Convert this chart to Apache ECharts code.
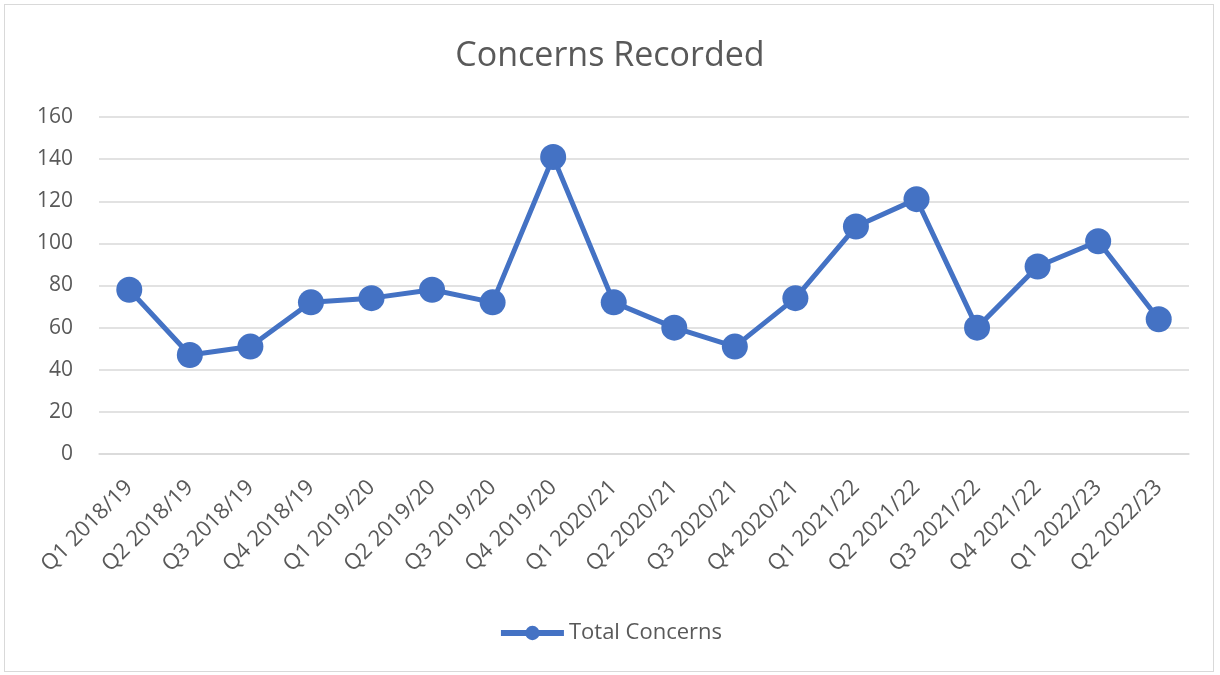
<!DOCTYPE html>
<html>
<head>
<meta charset="utf-8">
<script src="https://cdn.jsdelivr.net/npm/echarts@6/dist/echarts.min.js"></script>
<style>
html,body{margin:0;padding:0;background:#fff;}
#frame{position:absolute;left:4px;top:4px;width:1210px;height:668px;border:1px solid #d9d9d9;box-sizing:border-box;}
#chart{position:absolute;left:0;top:0;width:1220px;height:675px;}
</style>
</head>
<body>
<div id="frame"></div>
<div id="chart"></div>
<script>
const categories = ["Q1 2018/19","Q2 2018/19","Q3 2018/19","Q4 2018/19","Q1 2019/20","Q2 2019/20","Q3 2019/20","Q4 2019/20","Q1 2020/21","Q2 2020/21","Q3 2020/21","Q4 2020/21","Q1 2021/22","Q2 2021/22","Q3 2021/22","Q4 2021/22","Q1 2022/23","Q2 2022/23"];
const totalConcerns = [78,47,51,72,74,78,72,141,72,60,51,74,108,121,60,89,101,64];
const seriesName = "Total Concerns";
const titleText = "Concerns Recorded";

const chart = echarts.init(document.getElementById('chart'), null, {renderer:'canvas'});
const font = "'Open Sans', 'Noto Sans', sans-serif";
chart.setOption({
  animation:false,
  backgroundColor:'transparent',
  title:{text:titleText,left:'center',top:34,textStyle:{fontFamily:font,fontSize:34,fontWeight:'normal',color:'#595959'}},
  legend:{bottom:26,left:'center',itemWidth:63,itemHeight:18,itemGap:5,
    lineStyle:{width:6},
    textStyle:{fontFamily:font,fontSize:22,color:'#595959'},data:[seriesName]},
  grid:{left:99,right:31,top:117,bottom:221},
  xAxis:{type:'category',data:categories,boundaryGap:true,
    axisLine:{show:true,lineStyle:{color:'#d9d9d9',width:1.5}},
    axisTick:{show:false},
    axisLabel:{interval:0,rotate:45,margin:30,fontFamily:font,fontSize:22,color:'#595959'}},
  yAxis:{type:'value',min:0,max:160,interval:20,
    axisLine:{show:false},axisTick:{show:false},
    axisLabel:{margin:26,fontFamily:font,fontSize:21,color:'#595959'},
    splitLine:{lineStyle:{color:'#d9d9d9',width:1.5}}},
  series:[{name:seriesName,type:'line',data:totalConcerns,symbol:'circle',symbolSize:26,
    itemStyle:{color:'#4472C4'},lineStyle:{color:'#4472C4',width:5}}]
});
</script>
</body>
</html>
